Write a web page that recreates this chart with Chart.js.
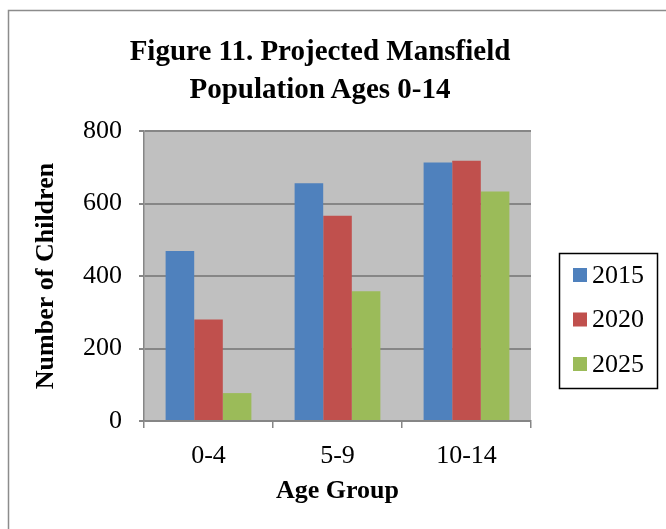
<!DOCTYPE html>
<html lang="en">
<head>
  <meta charset="UTF-8" />
  <title>Figure 11</title>
  <script src="https://cdn.jsdelivr.net/npm/chart.js"></script>
  <style>
    html, body { margin: 0; padding: 0; background: #fff; }
    .wrap { position: relative; width: 666px; height: 529px; }
    .titulo {
      position: absolute; left: 0; width: 640px; top: 31px;
      text-align: center;
      font-family: "Liberation Serif", "Times New Roman", serif;
      font-weight: bold; font-size: 29px; line-height: 38px;
      color: #000;
    }
    canvas { position: absolute; left: 0; top: 0; }
  </style>
</head>
<body>
  <div class="wrap">
    <canvas id="grafico" width="666" height="529"></canvas>
    <div class="titulo">Figure 11. Projected Mansfield<br>Population Ages 0-14</div>
  </div>

  <script>
    const categorias = ["0-4", "5-9", "10-14"];
    const anos = ["2015", "2020", "2025"];
    const valores2015 = [469, 656, 713];
    const valores2020 = [280, 566, 718];
    const valores2025 = [77, 358, 633];
    const yTicks = [0, 200, 400, 600, 800];
    const cores = ["#4F81BD", "#C0504D", "#9BBB59"];

    const serif = "'Liberation Serif', 'Times New Roman', serif";

    // fundo cinza da area do grafico + moldura externa
    const fundo = {
      id: 'fundo',
      beforeDraw(chart) {
        const { ctx, chartArea: a } = chart;
        ctx.save();
        ctx.strokeStyle = '#8c8c8c';
        ctx.lineWidth = 1.5;
        ctx.beginPath();
        ctx.moveTo(8.5, 529);
        ctx.lineTo(8.5, 10.5);
        ctx.lineTo(666, 10.5);
        ctx.stroke();
        ctx.fillStyle = '#C0C0C0';
        ctx.fillRect(a.left, a.top, a.right - a.left, a.bottom - a.top);
        ctx.restore();
      }
    };

    // legenda com caixa, desenhada a partir dos datasets
    const legenda = {
      id: 'legenda',
      afterDraw(chart) {
        const ctx = chart.ctx;
        const x = 559, y = 253, w = 98, h = 135;
        ctx.save();
        ctx.strokeStyle = '#000';
        ctx.lineWidth = 1.5;
        ctx.strokeRect(x + 0.5, y + 0.5, w, h);
        ctx.font = '26px ' + serif;
        ctx.textBaseline = 'middle';
        chart.data.datasets.forEach((ds, i) => {
          const cy = 275 + i * 44.5;
          ctx.fillStyle = ds.backgroundColor;
          ctx.fillRect(573, cy - 7, 14, 14);
          ctx.fillStyle = '#000';
          ctx.fillText(ds.label, 592, cy + 1);
        });
        ctx.restore();
      }
    };

    new Chart(document.getElementById('grafico'), {
      type: 'bar',
      data: {
        labels: categorias,
        datasets: [
          { label: anos[0], data: valores2015, backgroundColor: cores[0] },
          { label: anos[1], data: valores2020, backgroundColor: cores[1] },
          { label: anos[2], data: valores2025, backgroundColor: cores[2] }
        ]
      },
      options: {
        responsive: false,
        animation: false,
        layout: { padding: { top: 131, left: 0, right: 135, bottom: 0 } },
        datasets: { bar: { categoryPercentage: 0.665, barPercentage: 1, borderWidth: 0 } },
        plugins: {
          legend: { display: false },
          title: { display: false },
          tooltip: { enabled: false }
        },
        scales: {
          x: {
            afterFit: s => { s.height = 108; },
            offset: true,
            grid: { offset: true, drawOnChartArea: false, drawTicks: true, tickLength: 7, color: '#868686', lineWidth: 1.5 },
            border: { color: '#868686', width: 1.5 },
            ticks: { color: '#000', font: { family: serif, size: 26 }, padding: 13 },
            title: { display: true, text: 'Age Group', color: '#000', font: { family: serif, size: 26, weight: 'bold' }, padding: { top: 0, bottom: 22 } }
          },
          y: {
            afterFit: s => { s.width = 144; },
            min: 0,
            max: 800,
            afterBuildTicks: s => { s.ticks = yTicks.map(v => ({ value: v })); },
            grid: { color: '#868686', lineWidth: 2, tickLength: 5 },
            border: { color: '#868686', width: 1.5 },
            ticks: { color: '#000', font: { family: serif, size: 26 }, padding: 17 },
            title: { display: true, text: 'Number of Children', color: '#000', font: { family: serif, size: 26, weight: 'bold' }, padding: { top: 31, bottom: 0 } }
          }
        }
      },
      plugins: [fundo, legenda]
    });
  </script>
</body>
</html>
